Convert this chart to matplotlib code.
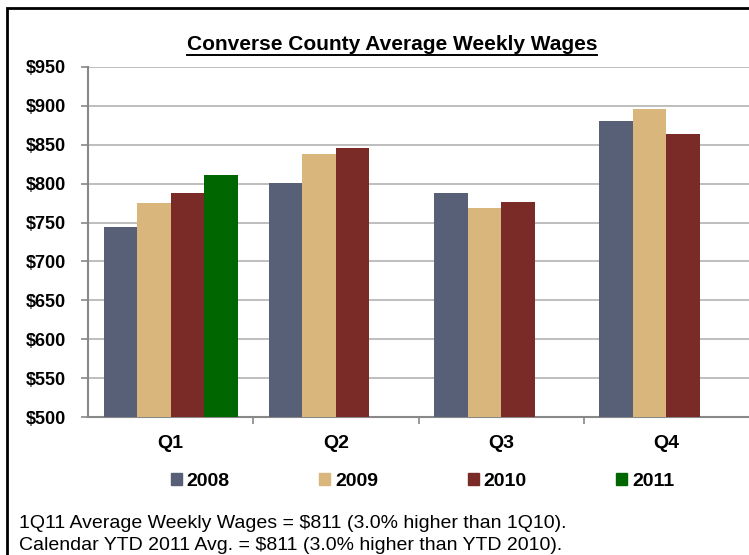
import matplotlib.pyplot as plt
from matplotlib.patches import Rectangle, Patch
import numpy as np

plt.rcParams['font.family'] = ['Liberation Sans', 'DejaVu Sans']

quarters = ['Q1', 'Q2', 'Q3', 'Q4']
years = ['2008', '2009', '2010', '2011']
wages_2008 = [744, 801, 788, 880]
wages_2009 = [775, 838, 769, 896]
wages_2010 = [788, 846, 776, 864]
wages_2011 = [811, None, None, None]
colors = ['#586077', '#d9b77c', '#7a2a27', '#006600']

fig = plt.figure(figsize=(7.49, 5.55), dpi=100)
ax = fig.add_axes([0.1175, 0.2486, 0.8825, 0.6307])

# outer black frame (right and bottom run past the image edge)
fig.patches.append(Rectangle((7 / 749, -0.1), 1.2, (1 - 8 / 555) + 0.1,
                             transform=fig.transFigure, fill=False,
                             edgecolor='black', linewidth=2))

x = np.arange(len(quarters))
w = 0.2025
series = [wages_2008, wages_2009, wages_2010, wages_2011]
for i, (vals, c) in enumerate(zip(series, colors)):
    xs = [xi + (i - 1.5) * w for xi, v in zip(x, vals) if v is not None]
    vs = [v for v in vals if v is not None]
    ax.bar(xs, [v - 500 for v in vs], bottom=500, width=w, color=c,
           zorder=3, linewidth=0)

ax.set_xlim(-0.5, 3.5)
ax.set_ylim(500, 950)
ax.set_yticks(range(500, 951, 50))
ax.set_yticklabels([f'${v}' for v in range(500, 951, 50)],
                   fontsize=13, fontweight='bold')
ax.yaxis.grid(True, color='#b3b3b3', linewidth=1.2, zorder=0)

ax.set_xticks([0.5, 1.5, 2.5], minor=False)
ax.set_xticklabels([])
ax.set_xticks(x, minor=True)
ax.set_xticklabels(quarters, minor=True, fontsize=14, fontweight='bold')
ax.tick_params(axis='x', which='minor', length=0, pad=13)
ax.tick_params(axis='x', which='major', length=5, color='#888888', width=1.2)
ax.tick_params(axis='y', length=5, color='#888888', width=1.2, pad=11)

for s in ['top', 'right']:
    ax.spines[s].set_visible(False)
for s in ['left', 'bottom']:
    ax.spines[s].set_color('#888888')
    ax.spines[s].set_linewidth(1.5)

handles = [Patch(color=c, label=y) for c, y in zip(colors, years)]
fig.legend(handles=handles, loc='center', bbox_to_anchor=(0.564, 1 - 481 / 555),
           ncol=4, frameon=False, handlelength=0.57, handleheight=0.57,
           handletextpad=0.25, columnspacing=4.6,
           prop={'size': 14, 'weight': 'bold'})

title = fig.text(392 / 749, 1 - 44 / 555, 'Converse County Average Weekly Wages',
                 ha='center', va='center', fontsize=15, fontweight='bold')
fig.canvas.draw()
bb = title.get_window_extent()
fig.add_artist(plt.Line2D([bb.x0 / fig.bbox.width, bb.x1 / fig.bbox.width],
                          [(bb.y0 - 1.0) / fig.bbox.height] * 2,
                          transform=fig.transFigure, color='black', linewidth=1.4))

fig.text(19 / 749, 1 - 523 / 555,
         '1Q11 Average Weekly Wages = $811 (3.0% higher than 1Q10).',
         ha='left', va='center', fontsize=14)
fig.text(19 / 749, 1 - 545 / 555,
         'Calendar YTD 2011 Avg. = $811 (3.0% higher than YTD 2010).',
         ha='left', va='center', fontsize=14)

fig.savefig('out.png', dpi=100)
